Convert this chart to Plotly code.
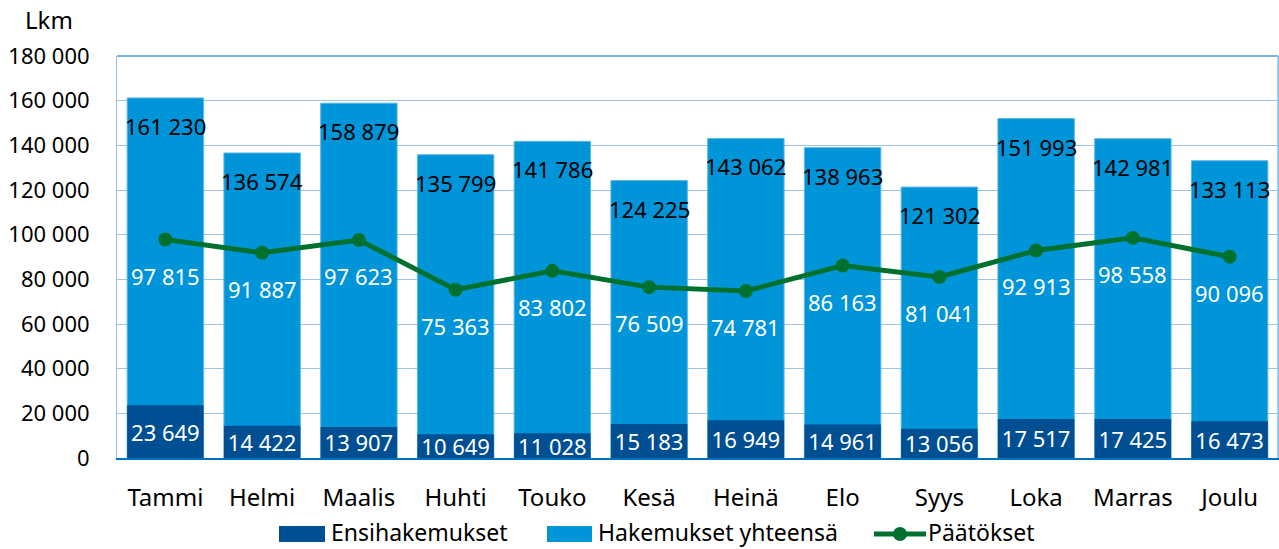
import plotly.graph_objects as go

months = ["Tammi", "Helmi", "Maalis", "Huhti", "Touko", "Kesä", "Heinä", "Elo", "Syys", "Loka", "Marras", "Joulu"]
ensi = [23649, 14422, 13907, 10649, 11028, 15183, 16949, 14961, 13056, 17517, 17425, 16473]
yhteensa = [161230, 136574, 158879, 135799, 141786, 124225, 143062, 138963, 121302, 151993, 142981, 133113]
paatokset = [97815, 91887, 97623, 75363, 83802, 76509, 74781, 86163, 81041, 92913, 98558, 90096]
series_names = ["Ensihakemukset", "Hakemukset yhteensä", "Päätökset"]

FONT = "Noto Sans"
NUM = 22   # numeric label size
TXT = 24   # word label size
LEG = 23   # legend text size
C_DARK, C_LIGHT, C_GREEN = "#004f93", "#0095d9", "#00702e"

W, H = 1279, 549
L, R, T, B = 117, 1, 56, 91
PW, PH = W - L - R, H - T - B

def px(x):
    return (x - L) / PW

def py(y):
    return (H - B - y) / PH

def fmt(v):
    return f"{v:,}".replace(",", " ")

fig = go.Figure()
fig.add_trace(go.Bar(
    x=months, y=yhteensa, name=series_names[1],
    marker=dict(color=C_LIGHT, line=dict(color="#5db7e6", width=1)),
    width=0.79, showlegend=False,
))
fig.add_trace(go.Bar(
    x=months, y=ensi, name=series_names[0],
    marker=dict(color=C_DARK, line=dict(width=0)),
    text=[fmt(v) for v in ensi], textposition="inside", insidetextanchor="middle",
    textfont=dict(color="white", size=NUM, family=FONT), constraintext="none",
    width=0.79, showlegend=False,
))
fig.add_trace(go.Scatter(
    x=months, y=paatokset, name=series_names[2], mode="lines+markers",
    line=dict(color=C_GREEN, width=5), marker=dict(size=14, color=C_GREEN),
    showlegend=False,
))

for m, v in zip(months, yhteensa):
    fig.add_annotation(x=m, y=v, text=fmt(v), showarrow=False, yshift=-28,
                       font=dict(color="black", size=NUM, family=FONT))
for m, v in zip(months, paatokset):
    fig.add_annotation(x=m, y=v, text=fmt(v), showarrow=False, yshift=-36,
                       font=dict(color="white", size=NUM, family=FONT))

fig.add_annotation(xref="paper", yref="paper", x=px(49), y=py(20), xanchor="center",
                   yanchor="middle", text="Lkm", showarrow=False,
                   font=dict(color="black", size=TXT, family=FONT))

# custom legend
ly = 532
fig.add_shape(type="rect", xref="paper", yref="paper", x0=px(279), x1=px(325),
              y0=py(542), y1=py(526), fillcolor=C_DARK, line=dict(width=0))
fig.add_annotation(xref="paper", yref="paper", x=px(329), y=py(ly), xanchor="left",
                   yanchor="middle", text=series_names[0], showarrow=False,
                   font=dict(color="black", size=LEG, family=FONT))
fig.add_shape(type="rect", xref="paper", yref="paper", x0=px(547), x1=px(592),
              y0=py(542), y1=py(526), fillcolor=C_LIGHT, line=dict(width=0))
fig.add_annotation(xref="paper", yref="paper", x=px(596), y=py(ly), xanchor="left",
                   yanchor="middle", text=series_names[1], showarrow=False,
                   font=dict(color="black", size=LEG, family=FONT))
fig.add_shape(type="line", xref="paper", yref="paper", x0=px(874), x1=px(926),
              y0=py(534), y1=py(534), line=dict(color=C_GREEN, width=5))
fig.add_shape(type="circle", xref="paper", yref="paper", x0=px(893), x1=px(907),
              y0=py(541), y1=py(527), fillcolor=C_GREEN, line=dict(width=0))
fig.add_annotation(xref="paper", yref="paper", x=px(926), y=py(ly), xanchor="left",
                   yanchor="middle", text=series_names[2], showarrow=False,
                   font=dict(color="black", size=LEG, family=FONT))

fig.update_layout(
    barmode="overlay",
    width=W, height=H,
    margin=dict(l=L, r=R, t=T, b=B, autoexpand=False),
    paper_bgcolor="white", plot_bgcolor="white",
    font=dict(family=FONT, size=NUM, color="black"),
    showlegend=False,
    separators=", ",
)
fig.update_yaxes(range=[0, 180000], dtick=20000, tickformat=",d",
                 gridcolor="#9dc3e6", gridwidth=1, showline=True, linecolor="#9dc3e6",
                 mirror=True, zeroline=False, ticks="", automargin=False,
                 ticklabelstandoff=22, tickfont=dict(size=NUM, family=FONT))
fig.update_xaxes(range=[-0.5, len(months) - 0.5], showline=True, linecolor="#0070c0",
                 linewidth=2, ticks="", automargin=False, ticklabelstandoff=17,
                 tickfont=dict(size=TXT, family=FONT))
fig.add_shape(type="line", xref="paper", yref="paper", x0=0, x1=1, y0=1, y1=1,
              line=dict(color="#4a9ad8", width=1.5))
fig.add_shape(type="line", xref="paper", yref="paper", x0=1, x1=1, y0=0, y1=1,
              line=dict(color="#8ec0e8", width=1.5))

fig.write_html("out.html", config={"displayModeBar": False},
               post_script="document.body.style.margin='0';document.body.style.overflow='hidden';")
